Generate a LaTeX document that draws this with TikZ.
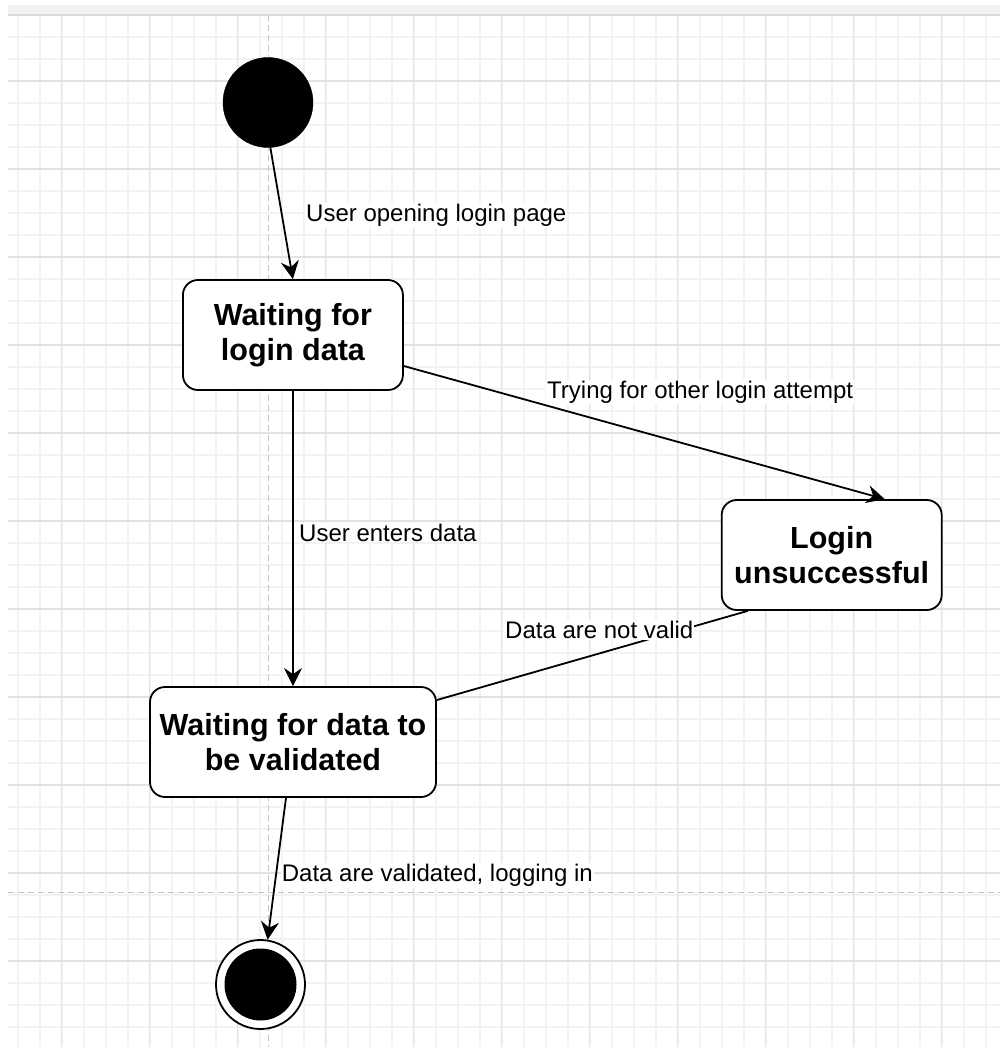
\documentclass[tikz,border=0pt]{standalone}
\usepackage{fontspec}
\setmainfont{Liberation Sans}
\usetikzlibrary{arrows.meta,calc}
\definecolor{gridminor}{HTML}{F3F3F3}
\definecolor{gridmajor}{HTML}{E2E2E2}
\definecolor{pagebreak}{HTML}{C4C4C4}
\definecolor{toolbar}{HTML}{F1F2F4}
\definecolor{toolbarline}{HTML}{DADADA}
\begin{document}
\begin{tikzpicture}[x=1pt,y=-1pt,
  state/.style={draw=black,line width=1.8pt,rounded corners=15pt,fill=white,
    align=center,inner sep=0pt,minimum height=110pt,
    font=\fontsize{30.5}{35.5}\selectfont\bfseries},
  flow/.style={draw=black,line width=1.8pt,-{Stealth[length=18pt,width=18pt,inset=6pt]}},
  link/.style={draw=black,line width=1.8pt},
  lbl/.style={fill=white,inner sep=1pt,anchor=base west,
    font=\fontsize{24}{28}\selectfont,text=black},
  minorline/.style={draw=gridminor,line width=1.2pt},
  majorline/.style={draw=gridmajor,line width=1.5pt},
  breakline/.style={draw=pagebreak,line width=1.2pt,dash pattern=on 6pt off 4pt}]

% canvas
\useasboundingbox (0,0) rectangle (1000,1048);
\fill[white] (0,0) rectangle (1000,1048);
\fill[toolbar] (8,5) rectangle (1000,15);

% grid
\foreach \i in {0,...,44} {\draw[minorline] ({18+22*\i},15) -- ({18+22*\i},1047);}
\foreach \i in {1,...,46} {\draw[minorline] (8,{15+22*\i}) -- (1000,{15+22*\i});}
\foreach \i in {0,...,10} {\draw[majorline] ({61.7+88*\i},15) -- ({61.7+88*\i},1047);}
\foreach \i in {0,...,10} {\draw[majorline] (8,{81+88*\i}) -- (1000,{81+88*\i});}
\draw[toolbarline,line width=1.5pt] (8,15) -- (1000,15);

% page breaks
\draw[breakline] (268.3,15) -- (268.3,1047);
\draw[breakline] (8,892.7) -- (1000,892.7);

% states
\node[circle,fill=black,draw=black,minimum size=90pt,inner sep=0pt] (init) at (268,102.5) {};
\node[state,minimum width=220pt] (waitlogin) at (292.9,335) {Waiting for\\login data};
\node[state,minimum width=220pt] (failed) at (831.7,555) {Login\\unsuccessful};
\node[state,minimum width=286pt] (waitvalid) at (293,742) {Waiting for data to\\be validated};
\node[circle,draw=black,line width=1.8pt,fill=white,minimum size=89pt,inner sep=0pt] (final) at (260.5,984.5) {};
\node[circle,fill=black,minimum size=72pt,inner sep=0pt] (finaldot) at (final) {};

% transitions
\draw[flow] (init.-87) -- (waitlogin.north);
\draw[flow] (waitlogin.south) -- (waitvalid.north);
\draw[flow] ([yshift=-31pt]waitlogin.east) -- ([xshift=53pt]failed.north);
\draw[link] ([xshift=-84pt]failed.south) -- ([yshift=42pt]waitvalid.east);
\draw[flow] ([xshift=-7pt]waitvalid.south) -- (final.81);

% transition labels
\node[lbl] (lblopen) at (305,221.7) {User opening login page};
\node[lbl] (lbltry) at (546,398.5) {Trying for other login attempt};
\node[lbl] (lblenter) at (298,541) {User enters data};
\node[lbl] (lblinvalid) at (504,638.3) {Data are not valid};
\node[lbl] (lblvalid) at (280.7,881.7) {Data are validated, logging in};
\end{tikzpicture}
\end{document}
